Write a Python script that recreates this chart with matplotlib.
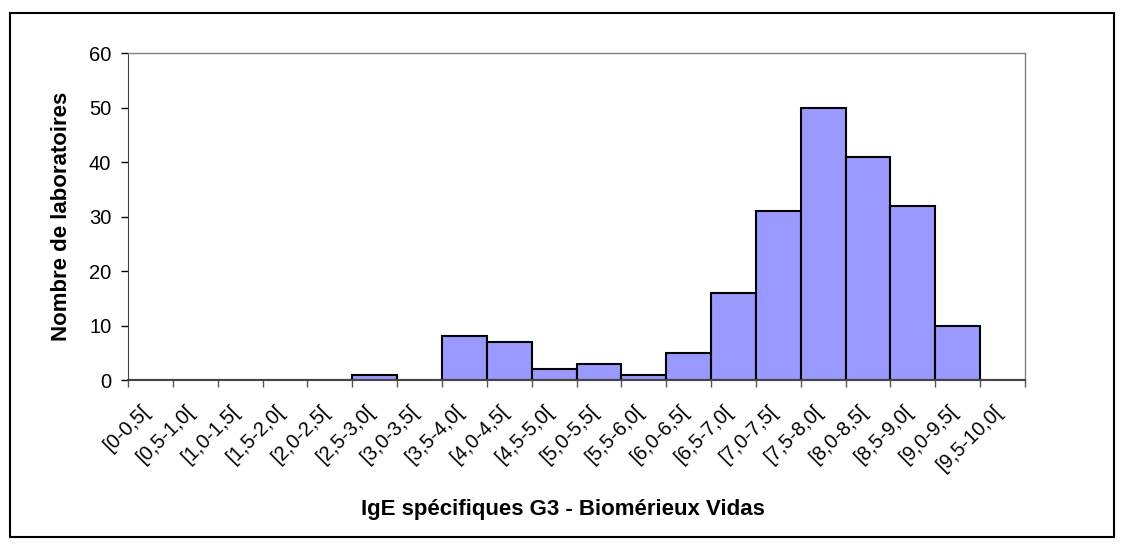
import matplotlib
matplotlib.use("Agg")
import matplotlib.pyplot as plt
from matplotlib.patches import Rectangle
import numpy as np

plt.rcParams['font.family'] = ['Liberation Sans', 'DejaVu Sans']

categories = ['[0-0,5[', '[0,5-1,0[', '[1,0-1,5[', '[1,5-2,0[', '[2,0-2,5[',
              '[2,5-3,0[', '[3,0-3,5[', '[3,5-4,0[', '[4,0-4,5[', '[4,5-5,0[',
              '[5,0-5,5[', '[5,5-6,0[', '[6,0-6,5[', '[6,5-7,0[', '[7,0-7,5[',
              '[7,5-8,0[', '[8,0-8,5[', '[8,5-9,0[', '[9,0-9,5[', '[9,5-10,0[']
counts = [0, 0, 0, 0, 0, 1, 0, 8, 7, 2, 3, 1, 5, 16, 31, 50, 41, 32, 10, 0]

fig = plt.figure(figsize=(11.25, 5.5), dpi=100)
ax = fig.add_axes([0.1138, 0.309, 0.7973, 0.5945])

x = np.arange(len(categories))
ax.bar(x, counts, width=1.0, color='#9999FF', edgecolor='black', linewidth=1.5)

ax.set_xlim(-0.5, len(categories) - 0.5)
ax.set_ylim(0, 60)
ax.set_yticks(range(0, 61, 10))
ax.tick_params(axis='y', labelsize=14.5, direction='out', length=5, width=1, pad=7)

# ticks at the bin edges, labels at the bin centres
ax.set_xticks(np.arange(-0.5, len(categories), 1.0))
ax.set_xticklabels([])
ax.tick_params(axis='x', direction='out', length=5, width=1, color='#555555')
for i, lab in enumerate(categories):
    ax.text(i - 0.22, -4.0, lab, rotation=45, ha='right', va='top',
            rotation_mode='anchor', fontsize=14.5)

for s in ['top', 'right']:
    ax.spines[s].set_color('#808080')
    ax.spines[s].set_linewidth(1)
ax.spines['left'].set_color('#444444')
ax.spines['bottom'].set_color('#444444')
ax.spines['bottom'].set_linewidth(1.5)

ax.set_ylabel('Nombre de laboratoires', fontsize=16, fontweight='bold', labelpad=12)
fig.text(0.5, 0.073, 'IgE spécifiques G3 - Biomérieux Vidas', ha='center', va='center',
         fontsize=16, fontweight='bold')

fig.patches.append(Rectangle((0.009, 0.024), 0.981, 0.952, transform=fig.transFigure,
                             fill=False, edgecolor='black', linewidth=1.5))

fig.savefig('out.png', dpi=100)
